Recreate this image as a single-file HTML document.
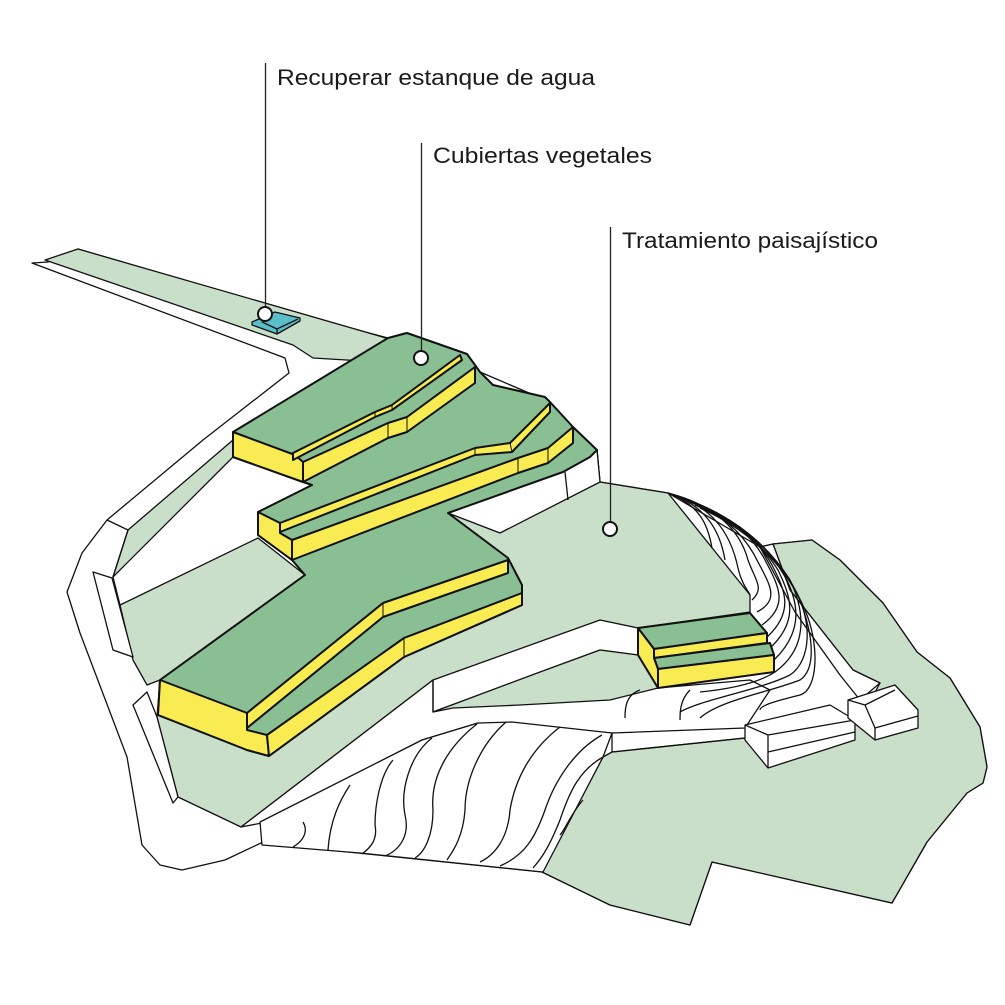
<!DOCTYPE html>
<html><head><meta charset="utf-8"><style>
html,body{margin:0;padding:0;background:#fff}
svg{display:block}
text{font-family:"Liberation Sans",sans-serif;font-size:22px;fill:#1a1a1a}
</style></head><body>
<svg width="1005" height="1005" viewBox="0 0 1005 1005" xmlns="http://www.w3.org/2000/svg">
<g stroke="#111" stroke-width="1.3" stroke-linejoin="round" fill="none">
<path fill="#fff" d="M32,263 L285,358 L289,373 L203,440 L167,470 L107,520 L82,553 L67,592 L80,633 L127,757 L142,845 L160,865 L182,870 L225,860 L261,843 L542,872 L610,905 L690,925 L712,862 L892,903 L927,842 L967,793 L983,783 L987,767 L980,727 L950,678 L917,652 L883,603 L840,560 L812,540 L773,544 L760,547 L668,493 L600,482 L597,450 L573,427 L550,402 L480,372 L467,354 L405,333 L388,338 L320,320 L78,249 L48,262 Z"/>
<path fill="#c9dfc9" d="M45,260 L78,249 L400,342 L380,362 L313,358 L293,345 Z"/>
<path fill="#c9dfc9" d="M128,530 L233,440 L233,457 L113,577 Z"/>
<path fill="#c9dfc9" d="M120,605 L258,538 L305,575 L160,680 L147,685 L133,660 Z"/>
<path fill="#fff" d="M93,572 L112,578 L133,657 L113,650 Z"/>
<path d="M107,520 L128,530 M128,530 L113,577 L120,605"/>
<path fill="#c9dfc9" d="M448,513 L563,472 L590,457 L597,450 L600,482 L668,493 L750,595 L750,612 L638,628 L600,620 L433,680 L241,827 L178,797 L157,717 L160,680 L305,575 L508,558 Z"/>
<path fill="#fff" d="M500,533 L600,482 L597,450 L590,457 L563,472 L448,513 Z"/>
<path d="M565,472 L568,500"/>
<path fill="#fff" d="M133,705 L147,692 L157,717 L178,797 L173,803 Z"/>
<path fill="#fff" d="M241,827 L433,680 L433,712 L600,650 L638,655 L658,688 L750,680 L770,690 L745,728 L612,733 L478,723 L422,740 L262,823 Z"/>
<path fill="#c9dfc9" d="M433,712 L540,672 L600,650 L638,655 L658,688 L610,700 L520,705 L453,708 Z"/>
<path d="M433,680 L433,712"/>
<path fill="#c9dfc9" d="M773,544 L812,540 L840,560 L883,603 L917,652 L950,678 L980,727 L987,767 L983,783 L967,793 L927,842 L892,903 L712,862 L690,925 L610,905 L542,872 L603,757 L612,752 L745,738 L860,720 L880,683 L853,670 L790,590 Z"/>
<path fill="#fff" d="M760,547 L773,544 L790,590 L853,670 L880,683 L860,700 L840,675 L795,612 Z"/>
<path fill="#fff" d="M262,845 L360,853 L543,872 L603,757 L612,733 L512,722 L478,723 L422,740 L260,822 Z"/>
<path d="M612,733 L612,752 L745,738"/>
<path d="M303,822 C308,830 305,840 293,847"/>
<path d="M350,785 C340,800 330,820 328,850"/>
<path d="M393,760 C380,775 375,805 375,825 C378,840 370,848 362,854"/>
<path d="M432,738 C410,755 400,790 405,815 C410,835 400,850 385,856"/>
<path d="M477,724 C450,745 430,775 433,810 C433,835 425,852 415,858"/>
<path d="M506,722 C480,745 465,780 465,810 C463,840 450,855 447,860"/>
<path d="M560,727 C530,750 515,780 510,810 C508,838 495,855 480,862"/>
<path d="M602,735 C575,750 555,780 545,810 C535,838 525,855 500,866"/>
<path d="M603,757 C580,770 570,790 560,820 C548,850 540,860 533,868"/>
<path d="M583,800 C570,815 565,830 560,835"/>
<path d="M668,493 C700,505 708,525 712,548"/>
<path d="M668,493 C705,505 720,530 725,560"/>
<path d="M668,493 C710,505 730,530 738,568 C742,585 748,590 750,595"/>
<path d="M668,493 C715,505 740,530 748,560 C755,580 765,588 752,600"/>
<path d="M670,494 C720,508 745,535 758,562 C770,585 780,600 757,612"/>
<path d="M672,495 C725,510 752,535 765,560 C778,585 790,605 762,625"/>
<path d="M675,496 C730,512 758,540 772,565 C785,590 795,612 766,638"/>
<path d="M678,497 C735,515 762,545 778,570 C790,595 800,620 770,648"/>
<path d="M682,498 C740,518 768,548 784,575 C798,600 805,630 774,660"/>
<path d="M686,500 C745,522 772,552 790,580 C802,605 812,645 775,672 C755,685 720,690 700,692"/>
<path d="M690,502 C750,526 778,558 795,590 C812,620 812,660 790,675 C760,690 700,700 680,712"/>
<path d="M695,505 C755,530 785,565 800,600 C815,640 815,670 800,680 C770,692 720,700 700,718"/>
<path d="M700,508 C760,535 790,575 805,610 C820,645 818,690 800,695 C780,700 760,705 760,710"/>
<path d="M640,690 C625,695 625,710 625,718"/>
<path d="M690,690 C680,700 680,712 680,720"/>
<path fill="#fff" d="M745,725 L830,705 L855,720 L855,740 L768,768 L745,740 Z"/>
<path d="M745,725 L768,735 L855,720 M768,735 L768,768 M768,752 L855,732"/>
<path fill="#fff" d="M848,700 L895,685 L918,710 L918,728 L875,740 L848,718 Z"/>
<path d="M848,700 L865,705 L875,728 L875,740 M875,728 L918,716 M865,705 L895,690"/>
<path fill="#5bbfc9" d="M252,322 L275,312 L300,318 L300,321 L277,334 L252,325 Z"/>
<path d="M262,322 L277,329 L298,319 M277,329 L277,334"/>
</g>
<g stroke="#111" stroke-width="2" stroke-linejoin="round">
<path fill="#8abe93" d="M233,432 L388,338 L407,333 L467,354 L475,365 L480,372 L493,385 L545,397 L550,402 L573,427 L597,450 L590,457 L563,472 L448,513 L508,558 L522,585 L522,605 L404,657 L269,756 L247,750 L158,715 L160,680 L305,575 L292,560 L258,535 L258,512 L312,485 L303,482 L233,457 Z"/>
<path fill="#f8ec52" d="M233,432 L295,455 L303,462 L303,482 L233,457 Z"/>
<path fill="#f8ec52" d="M293,453 L375,412 L392,405 L460,355 L462,360 L392,410 L375,417 L293,460 Z"/>
<path fill="#f8ec52" d="M303,462 L388,423 L407,417 L475,367 L475,383 L407,432 L388,438 L303,482 Z"/>
<path fill="#f8ec52" d="M258,512 L280,523 L280,533 L292,540 L292,560 L258,535 Z"/>
<path fill="#f8ec52" d="M280,523 L475,448 L510,443 L550,403 L550,412 L512,452 L475,455 L280,532 Z"/>
<path fill="#f8ec52" d="M292,540 L518,458 L548,448 L573,427 L573,443 L548,463 L518,473 L292,560 Z"/>
<path fill="#f8ec52" d="M160,680 L247,713 L247,730 L267,735 L269,756 L247,750 L158,715 Z"/>
<path fill="#f8ec52" d="M247,713 L383,603 L508,560 L508,573 L383,617 L247,728 Z"/>
<path fill="#f8ec52" d="M267,735 L404,638 L522,593 L522,605 L404,657 L269,756 Z"/>
<path fill="#8abe93" d="M638,628 L750,613 L767,633 L654,649 Z"/>
<path fill="#f8ec52" d="M654,649 L767,633 L767,643 L654,658 Z"/>
<path fill="#8abe93" d="M654,658 L770,643 L774,655 L658,669 Z"/>
<path fill="#f8ec52" d="M658,669 L774,655 L774,672 L658,688 Z"/>
<path fill="#f8ec52" d="M638,628 L654,649 L654,658 L658,669 L658,688 L638,655 Z"/>
</g>
<g stroke="#111" stroke-width="1" fill="none">
<path d="M375,412 L375,417 M392,405 L392,410 M388,423 L388,438 M407,417 L407,432 M475,448 L475,455 M510,443 L512,452 M518,458 L518,473 M548,448 L548,463 M383,603 L383,617 M404,638 L404,657 M280,523 L280,533 M292,540 L292,560"/>
</g>
<g stroke="#222" stroke-width="1.3">
<line x1="265.5" y1="63" x2="265.5" y2="308"/>
<line x1="421.5" y1="143" x2="421.5" y2="352"/>
<line x1="610.5" y1="227" x2="610.5" y2="522"/>
</g>
<g fill="#fff" stroke="#111" stroke-width="2">
<circle cx="265" cy="314" r="7"/>
<circle cx="421" cy="358" r="7"/>
<circle cx="610" cy="529" r="7"/>
</g>
<text x="277" y="85" textLength="318" lengthAdjust="spacingAndGlyphs">Recuperar estanque de agua</text>
<text x="433" y="163" textLength="219" lengthAdjust="spacingAndGlyphs">Cubiertas vegetales</text>
<text x="622" y="248" textLength="256" lengthAdjust="spacingAndGlyphs">Tratamiento paisajístico</text>
</svg>
</body></html>
